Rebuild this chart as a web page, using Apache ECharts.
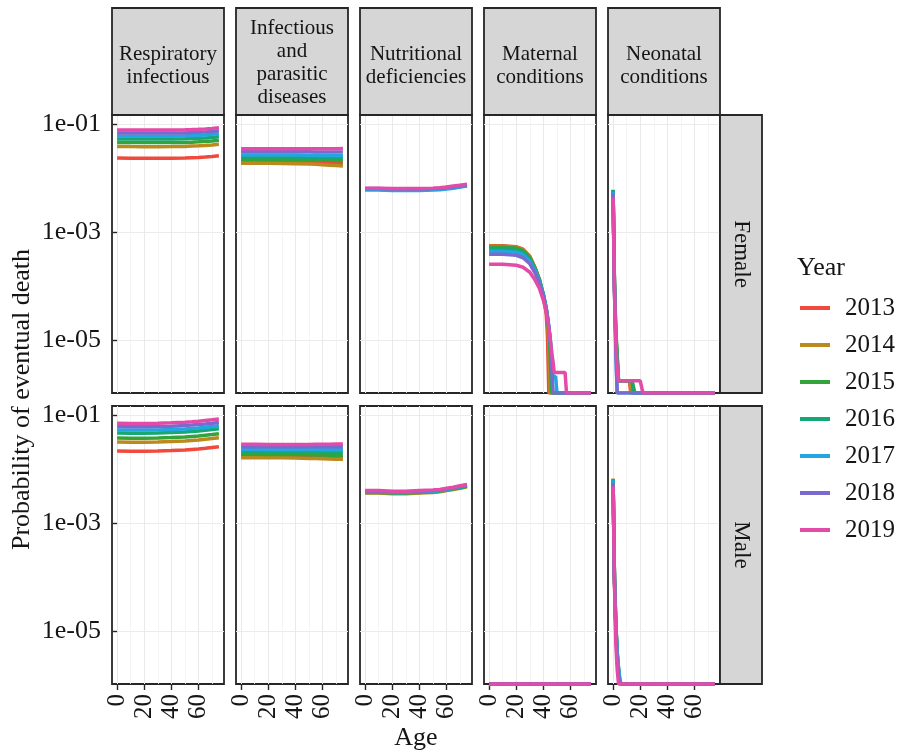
<!DOCTYPE html>
<html>
<head>
<meta charset="utf-8">
<script src="https://cdn.jsdelivr.net/npm/echarts@6.0.0/dist/echarts.min.js"></script>
<style>
  html, body { margin: 0; padding: 0; background: #fff; }
  #chart { width: 901px; height: 756px; }
</style>
</head>
<body>
<div id="chart"></div>
<script>
// ---- data ----
const years = ["2013", "2014", "2015", "2016", "2017", "2018", "2019"];
const yearColors = ["#f04a3c", "#bb8a1c", "#35a33c", "#16a874", "#22a5e0", "#7b6ace", "#e34ba8"];
const causes = [
  "Respiratory\ninfectious",
  "Infectious\nand\nparasitic\ndiseases",
  "Nutritional\ndeficiencies",
  "Maternal\nconditions",
  "Neonatal\nconditions",
];
const sexes = ["Female", "Male"];
const xTicks = [0, 20, 40, 60];
const yTicks = [-1, -3, -5]; // log10 of 1e-01, 1e-03, 1e-05

const agesSmooth = [0, 10, 20, 30, 40, 50, 55, 60, 65, 70, 75];
const agesMaternal = [0, 10, 20, 25, 30, 34, 37, 40, 42, 43, 44, 45, 46, 47, 48, 49, 50, 51, 56, 57, 75];
const agesNeoFemale = [0, 1, 2, 3, 4, 12, 13, 14, 15, 16, 20, 21, 22, 75];
const agesNeoMale = [0, 1, 2, 3, 4, 5, 6, 75];
const agesNone = [0, 75];

// one row per year, 2013..2019; 0 = no deaths (drawn on the panel floor)
const respFemale = [
  [0.0234, 0.0232, 0.0231, 0.0231, 0.0232, 0.0234, 0.0237, 0.0240, 0.0244, 0.0249, 0.0257],
  [0.0383, 0.0381, 0.0380, 0.0380, 0.0381, 0.0384, 0.0389, 0.0394, 0.0400, 0.0408, 0.0420],
  [0.0454, 0.0452, 0.0451, 0.0451, 0.0452, 0.0455, 0.0460, 0.0466, 0.0474, 0.0484, 0.0498],
  [0.0528, 0.0526, 0.0525, 0.0525, 0.0526, 0.0529, 0.0535, 0.0542, 0.0551, 0.0563, 0.0580],
  [0.0600, 0.0598, 0.0597, 0.0597, 0.0598, 0.0601, 0.0608, 0.0616, 0.0626, 0.0640, 0.0659],
  [0.0681, 0.0679, 0.0677, 0.0677, 0.0679, 0.0682, 0.0690, 0.0699, 0.0710, 0.0726, 0.0748],
  [0.0774, 0.0772, 0.0770, 0.0770, 0.0772, 0.0776, 0.0785, 0.0795, 0.0808, 0.0826, 0.0850],
];
const respMale = [
  [0.0215, 0.0213, 0.0213, 0.0215, 0.0219, 0.0224, 0.0229, 0.0234, 0.0241, 0.0249, 0.0257],
  [0.0316, 0.0313, 0.0313, 0.0316, 0.0321, 0.0330, 0.0337, 0.0344, 0.0355, 0.0365, 0.0378],
  [0.0375, 0.0372, 0.0372, 0.0375, 0.0381, 0.0392, 0.0400, 0.0408, 0.0421, 0.0434, 0.0449],
  [0.0464, 0.0460, 0.0460, 0.0464, 0.0472, 0.0484, 0.0495, 0.0505, 0.0521, 0.0536, 0.0555],
  [0.0528, 0.0523, 0.0523, 0.0528, 0.0537, 0.0551, 0.0563, 0.0575, 0.0592, 0.0610, 0.0631],
  [0.0607, 0.0602, 0.0602, 0.0607, 0.0617, 0.0634, 0.0647, 0.0661, 0.0681, 0.0702, 0.0726],
  [0.0702, 0.0696, 0.0696, 0.0702, 0.0714, 0.0733, 0.0748, 0.0764, 0.0788, 0.0812, 0.0840],
];
const infectFemale = [
  [0.0198, 0.0198, 0.0197, 0.0197, 0.0195, 0.0193, 0.0191, 0.0189, 0.0187, 0.0185, 0.0183],
  [0.0187, 0.0187, 0.0187, 0.0186, 0.0184, 0.0181, 0.0179, 0.0176, 0.0173, 0.0170, 0.0167],
  [0.0222, 0.0222, 0.0221, 0.0221, 0.0219, 0.0217, 0.0216, 0.0214, 0.0213, 0.0211, 0.0210],
  [0.0248, 0.0248, 0.0247, 0.0247, 0.0245, 0.0243, 0.0242, 0.0241, 0.0240, 0.0239, 0.0238],
  [0.0267, 0.0267, 0.0266, 0.0266, 0.0265, 0.0264, 0.0263, 0.0262, 0.0261, 0.0260, 0.0259],
  [0.0307, 0.0307, 0.0306, 0.0306, 0.0305, 0.0305, 0.0304, 0.0304, 0.0303, 0.0302, 0.0301],
  [0.0349, 0.0349, 0.0348, 0.0348, 0.0348, 0.0348, 0.0348, 0.0348, 0.0348, 0.0349, 0.0350],
];
const infectMale = [
  [0.0172, 0.0172, 0.0171, 0.0171, 0.0170, 0.0168, 0.0167, 0.0166, 0.0164, 0.0163, 0.0162],
  [0.0162, 0.0162, 0.0161, 0.0161, 0.0159, 0.0157, 0.0156, 0.0155, 0.0153, 0.0152, 0.0151],
  [0.0187, 0.0187, 0.0186, 0.0186, 0.0185, 0.0183, 0.0182, 0.0181, 0.0180, 0.0179, 0.0178],
  [0.0209, 0.0209, 0.0208, 0.0208, 0.0207, 0.0206, 0.0205, 0.0204, 0.0203, 0.0202, 0.0201],
  [0.0231, 0.0231, 0.0230, 0.0230, 0.0230, 0.0229, 0.0229, 0.0228, 0.0228, 0.0227, 0.0227],
  [0.0259, 0.0259, 0.0258, 0.0258, 0.0258, 0.0258, 0.0258, 0.0258, 0.0258, 0.0258, 0.0258],
  [0.0286, 0.0286, 0.0285, 0.0285, 0.0285, 0.0285, 0.0286, 0.0287, 0.0288, 0.0289, 0.0290],
];
const nutriFemale = [
  [0.0063, 0.0063, 0.0062, 0.0062, 0.0062, 0.0063, 0.0064, 0.0066, 0.0068, 0.0071, 0.0074],
  [0.0062, 0.0062, 0.0061, 0.0061, 0.0061, 0.0062, 0.0063, 0.0065, 0.0067, 0.0070, 0.0073],
  [0.0063, 0.0063, 0.0062, 0.0062, 0.0062, 0.0063, 0.0064, 0.0066, 0.0068, 0.0071, 0.0074],
  [0.0062, 0.0062, 0.0061, 0.0061, 0.0061, 0.0062, 0.0063, 0.0065, 0.0067, 0.0070, 0.0073],
  [0.0060, 0.0060, 0.0059, 0.0059, 0.0059, 0.0060, 0.0061, 0.0063, 0.0065, 0.0068, 0.0071],
  [0.0064, 0.0064, 0.0063, 0.0063, 0.0063, 0.0064, 0.0065, 0.0067, 0.0069, 0.0072, 0.0075],
  [0.0065, 0.0065, 0.0064, 0.0064, 0.0064, 0.0065, 0.0066, 0.0068, 0.0071, 0.0074, 0.0077],
];
const nutriMale = [
  [0.0037, 0.0037, 0.0036, 0.0036, 0.0037, 0.0038, 0.0039, 0.0041, 0.0043, 0.0045, 0.0048],
  [0.0036, 0.0036, 0.0035, 0.0035, 0.0036, 0.0037, 0.0038, 0.0040, 0.0042, 0.0044, 0.0047],
  [0.0037, 0.0037, 0.0036, 0.0036, 0.0037, 0.0038, 0.0039, 0.0041, 0.0043, 0.0045, 0.0048],
  [0.0038, 0.0038, 0.0037, 0.0037, 0.0038, 0.0039, 0.0040, 0.0042, 0.0044, 0.0046, 0.0049],
  [0.0038, 0.0038, 0.0037, 0.0037, 0.0038, 0.0039, 0.0040, 0.0042, 0.0044, 0.0047, 0.0050],
  [0.0039, 0.0039, 0.0038, 0.0038, 0.0039, 0.0040, 0.0041, 0.0043, 0.0045, 0.0048, 0.0051],
  [0.0040, 0.0040, 0.0039, 0.0039, 0.0040, 0.0041, 0.0042, 0.0044, 0.0046, 0.0049, 0.0052],
];
const maternalFemale = [
  [5.62e-4, 5.62e-4, 5.39e-4, 4.84e-4, 3.59e-4, 2.15e-4, 1.35e-4, 6.5e-5, 3.3e-5, 1.24e-5, 0, 0, 0, 0, 0, 0, 0, 0, 0, 0, 0],
  [5.51e-4, 5.51e-4, 5.27e-4, 4.74e-4, 3.52e-4, 2.15e-4, 1.35e-4, 6.8e-5, 3.6e-5, 2.34e-5, 8.1e-6, 0, 0, 0, 0, 0, 0, 0, 0, 0, 0],
  [5.27e-4, 5.27e-4, 5.05e-4, 4.54e-4, 3.37e-4, 2.11e-4, 1.35e-4, 7.1e-5, 3.92e-5, 2.55e-5, 1.53e-5, 6.0e-6, 0, 0, 0, 0, 0, 0, 0, 0, 0],
  [4.84e-4, 4.84e-4, 4.64e-4, 4.17e-4, 3.16e-4, 2.02e-4, 1.29e-4, 7.1e-5, 4.08e-5, 2.78e-5, 1.74e-5, 1.0e-5, 2.15e-6, 0, 0, 0, 0, 0, 0, 0, 0],
  [4.45e-4, 4.45e-4, 4.26e-4, 3.83e-4, 2.90e-4, 1.90e-4, 1.24e-4, 6.8e-5, 4.08e-5, 2.78e-5, 1.82e-5, 1.09e-5, 6.5e-6, 2.15e-6, 2.15e-6, 2.15e-6, 0, 0, 0, 0, 0],
  [3.92e-4, 3.92e-4, 3.75e-4, 3.37e-4, 2.61e-4, 1.74e-4, 1.14e-4, 6.5e-5, 3.92e-5, 2.67e-5, 1.74e-5, 1.04e-5, 4.26e-6, 0, 0, 0, 0, 0, 0, 0, 0],
  [2.55e-4, 2.55e-4, 2.45e-4, 2.25e-4, 1.82e-4, 1.29e-4, 9.2e-5, 5.5e-5, 3.44e-5, 2.45e-5, 1.67e-5, 1.09e-5, 6.0e-6, 4.26e-6, 2.55e-6, 2.55e-6, 2.55e-6, 2.55e-6, 2.55e-6, 0, 0],
];
const maternalMale = [
  [0, 0], [0, 0], [0, 0], [0, 0], [0, 0], [0, 0], [0, 0],
];
const neonatalFemale = [
  [5.6e-3, 1.0e-4, 1.2e-5, 4.0e-6, 1.8e-6, 1.8e-6, 0, 0, 0, 0, 0, 0, 0, 0],
  [5.8e-3, 1.1e-4, 1.3e-5, 4.5e-6, 1.8e-6, 1.8e-6, 1.8e-6, 0, 0, 0, 0, 0, 0, 0],
  [6.0e-3, 1.2e-4, 1.5e-5, 5.7e-6, 1.8e-6, 1.8e-6, 1.8e-6, 1.8e-6, 1.8e-6, 0, 0, 0, 0, 0],
  [6.1e-3, 1.1e-4, 1.4e-5, 5.0e-6, 1.8e-6, 1.8e-6, 1.8e-6, 1.8e-6, 0, 0, 0, 0, 0, 0],
  [5.6e-3, 1.0e-4, 8.0e-6, 0, 0, 0, 0, 0, 0, 0, 0, 0, 0, 0],
  [5.2e-3, 9.0e-5, 6.0e-6, 0, 0, 0, 0, 0, 0, 0, 0, 0, 0, 0],
  [4.4e-3, 8.0e-5, 1.0e-5, 3.0e-6, 1.8e-6, 1.8e-6, 1.8e-6, 1.8e-6, 1.8e-6, 1.8e-6, 1.8e-6, 1.8e-6, 0, 0],
];
const neonatalMale = [
  [6.0e-3, 9.0e-5, 1.2e-5, 3.5e-6, 1.8e-6, 0, 0, 0],
  [6.7e-3, 1.0e-4, 1.3e-5, 3.8e-6, 1.9e-6, 0, 0, 0],
  [6.5e-3, 1.0e-4, 1.4e-5, 4.0e-6, 2.0e-6, 1.2e-6, 0, 0],
  [6.4e-3, 1.0e-4, 1.4e-5, 4.0e-6, 2.0e-6, 1.2e-6, 0, 0],
  [6.2e-3, 1.0e-4, 1.5e-5, 4.3e-6, 2.2e-6, 1.3e-6, 0, 0],
  [5.5e-3, 9.0e-5, 1.0e-5, 3.0e-6, 1.5e-6, 0, 0, 0],
  [4.8e-3, 8.0e-5, 6.0e-6, 2.0e-6, 0, 0, 0, 0],
];

// panels[row][col]
const panels = [
  [
    { ages: agesSmooth, values: respFemale },
    { ages: agesSmooth, values: infectFemale },
    { ages: agesSmooth, values: nutriFemale },
    { ages: agesMaternal, values: maternalFemale },
    { ages: agesNeoFemale, values: neonatalFemale },
  ],
  [
    { ages: agesSmooth, values: respMale },
    { ages: agesSmooth, values: infectMale },
    { ages: agesSmooth, values: nutriMale },
    { ages: agesNone, values: maternalMale },
    { ages: agesNeoMale, values: neonatalMale },
  ],
];

// ---- layout ----
const LOG_MIN = -5.97;
const LOG_MAX = -0.836;
const AGE_MIN = -3.75;
const AGE_MAX = 78.75;
const panelLeft = [112, 236, 360, 484, 608];
const panelTop = [115, 406];
const panelW = 112;
const panelH = 278;
const stripTop = 8;
const stripRightW = 42;
const FONT = "Liberation Serif";
const INK = "#151515";
const BORDER = "#262626";

const toLog = (p) => (p > 0 ? Math.log10(p) : LOG_MIN);

const grids = [];
const xAxes = [];
const yAxes = [];
const series = [];
const graphics = [];

panels.forEach((row, r) => {
  row.forEach((panel, c) => {
    const k = grids.length;
    grids.push({
      left: panelLeft[c],
      top: panelTop[r],
      width: panelW,
      height: panelH,
      show: true,
      backgroundColor: "#ffffff",
      borderColor: BORDER,
      borderWidth: 1.8,
      containLabel: false,
      outerBoundsMode: "none",
    });
    xAxes.push({
      gridIndex: k,
      type: "value",
      min: AGE_MIN,
      max: AGE_MAX,
      axisLine: { show: false },
      axisTick: {
        show: r === 1,
        customValues: xTicks,
        length: 6,
        lineStyle: { color: BORDER, width: 1.4 },
      },
      axisLabel: {
        show: r === 1,
        customValues: xTicks,
        rotate: 90,
        margin: 10,
        color: INK,
        fontFamily: FONT,
        fontSize: 25,
      },
      splitLine: { show: true, lineStyle: { color: "#e9e9e9", width: 1 } },
      minorTick: { show: false, splitNumber: 2 },
      minorSplitLine: { show: true, lineStyle: { color: "#f1f1f1", width: 0.8 } },
    });
    yAxes.push({
      gridIndex: k,
      type: "value",
      min: LOG_MIN,
      max: LOG_MAX,
      axisLine: { show: false },
      axisTick: {
        show: c === 0,
        customValues: yTicks,
        length: 5,
        lineStyle: { color: BORDER, width: 1.4 },
      },
      axisLabel: {
        show: c === 0,
        customValues: yTicks,
        margin: 11,
        color: INK,
        fontFamily: FONT,
        fontSize: 26,
        formatter: (v) => "1e-" + String(-v).padStart(2, "0"),
      },
      splitLine: { show: true, lineStyle: { color: "#ebebeb", width: 1 } },
    });

    years.forEach((year, i) => {
      series.push({
        name: year,
        type: "line",
        xAxisIndex: k,
        yAxisIndex: k,
        data: panel.ages.map((age, j) => [age, toLog(panel.values[i][j])]),
        symbol: "none",
        showSymbol: false,
        color: yearColors[i],
        lineStyle: { width: 3.5, color: yearColors[i] },
        z: 2 + i,
        animation: false,
        silent: true,
      });
    });
  });
});

// column strips
causes.forEach((label, c) => {
  graphics.push({
    type: "rect",
    shape: { x: panelLeft[c], y: stripTop, width: panelW, height: panelTop[0] - stripTop },
    style: { fill: "#d6d6d6", stroke: BORDER, lineWidth: 1.8 },
    z: 10,
  });
  const lines = label.split("\n").length;
  graphics.push({
    type: "text",
    x: panelLeft[c] + panelW / 2,
    y: (stripTop + panelTop[0]) / 2 + (lines < 4 ? 4 : 1),
    style: {
      text: label,
      fill: INK,
      fontFamily: FONT,
      fontSize: 21,
      lineHeight: 23,
      align: "center",
      verticalAlign: "middle",
    },
    z: 11,
  });
});

// row strips
sexes.forEach((label, r) => {
  const x0 = panelLeft[4] + panelW;
  graphics.push({
    type: "rect",
    shape: { x: x0, y: panelTop[r], width: stripRightW, height: panelH },
    style: { fill: "#d6d6d6", stroke: BORDER, lineWidth: 1.8 },
    z: 10,
  });
  graphics.push({
    type: "text",
    x: x0 + stripRightW / 2,
    y: panelTop[r] + panelH / 2,
    rotation: -Math.PI / 2,
    style: {
      text: label,
      fill: INK,
      fontFamily: FONT,
      fontSize: 23,
      align: "center",
      verticalAlign: "middle",
    },
    z: 11,
  });
});

// axis titles and legend title
graphics.push({
  type: "text",
  x: 22,
  y: (panelTop[0] + panelTop[1] + panelH) / 2,
  rotation: Math.PI / 2,
  style: {
    text: "Probability of eventual death",
    fill: INK,
    fontFamily: FONT,
    fontSize: 26,
    align: "center",
    verticalAlign: "middle",
  },
});
graphics.push({
  type: "text",
  x: (panelLeft[0] + panelLeft[4] + panelW) / 2,
  y: 738,
  style: {
    text: "Age",
    fill: INK,
    fontFamily: FONT,
    fontSize: 26,
    align: "center",
    verticalAlign: "middle",
  },
});
graphics.push({
  type: "text",
  x: 797,
  y: 268,
  style: {
    text: "Year",
    fill: INK,
    fontFamily: FONT,
    fontSize: 26,
    align: "left",
    verticalAlign: "middle",
  },
});

const chart = echarts.init(document.getElementById("chart"), null, { renderer: "canvas" });
chart.setOption({
  animation: false,
  backgroundColor: "#ffffff",
  grid: grids,
  xAxis: xAxes,
  yAxis: yAxes,
  series: series,
  graphic: graphics,
  legend: {
    data: years,
    orient: "vertical",
    left: 800,
    top: 295,
    padding: 0,
    icon: "rect",
    itemWidth: 30,
    itemHeight: 4,
    itemGap: 11,
    selectedMode: false,
    textStyle: {
      color: INK,
      fontFamily: FONT,
      fontSize: 25,
      lineHeight: 26,
      padding: [0, 0, 0, 10],
    },
  },
});
</script>
</body>
</html>
